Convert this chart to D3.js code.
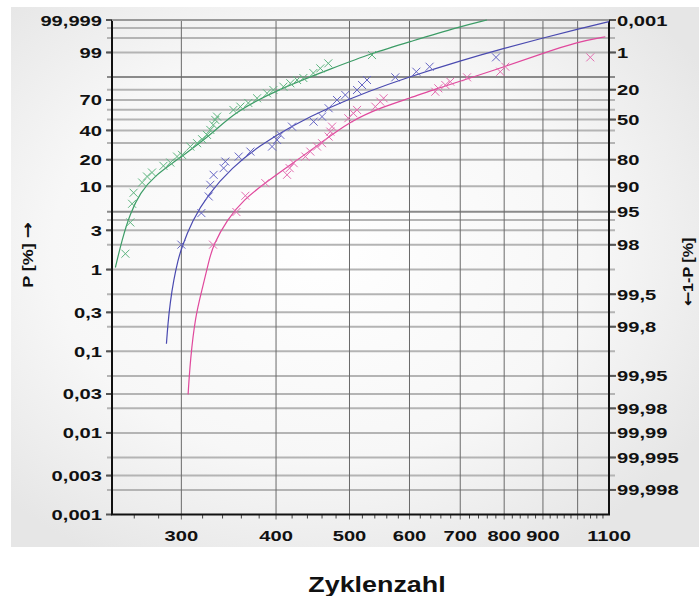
<!DOCTYPE html>
<html>
<head>
<meta charset="utf-8">
<script src="https://cdn.jsdelivr.net/npm/d3@7"></script>
<style>
  body { margin: 0; background: #fff; }
  text { font-family: "Liberation Sans", Arial, sans-serif; font-weight: bold; fill: #111; }
</style>
</head>
<body>
<div id="wrapper"></div>
<script>
// Werte (Zyklenzahl, P in %)
const greenPoints = [[253.1,1.56],[256.9,3.73],[258.3,6.23],[259.5,8.41],[266.3,11.07],[270.3,12.97],[274.4,14.4],[284.1,17.11],[290.1,18.62],[296.1,21.64],[300.6,22.58],[308.3,27.63],[314.7,29.95],[319.5,32.84],[324.3,36.23],[327.6,40.39],[330.6,44.89],[332.6,49.64],[334.4,52.9],[351.4,59.72],[358.9,63.13],[367.7,66.95],[377.6,71.75],[389.2,76.66],[396.8,79.75],[409,82.66],[417.8,85.47],[426.4,87.96],[434.6,89.35],[448,92.41],[457.6,94.72],[468.8,96.62],[535.4,98.62]];
const bluePoints = [[300,2.01],[318.8,4.83],[326,7.61],[327.6,10.41],[330.9,13.56],[341.1,16.14],[342.9,19.09],[357.1,21.64],[370,24.48],[395.2,27.63],[401.2,32.33],[405.3,36.23],[419.9,43.32],[448.4,47.99],[460,52.9],[469.3,61.48],[481.4,70],[493.7,75.02],[511.6,79.75],[519.4,84.1],[527.3,87.96],[574.7,89.81],[612.6,93.11],[637.8,95.4],[780.4,98.19]];
const magentaPoints = [[330.3,2.01],[354.6,4.97],[364.4,7.75],[387.2,10.89],[413.6,13.56],[416.9,16.14],[422,18.33],[437.3,21.64],[443.9,24.48],[453,27.63],[460,29.95],[469.3,34.86],[471.7,38.96],[474.2,43.32],[498.2,51.31],[505.9,56.33],[511.6,59.72],[540.8,63.13],[549.1,68.31],[554.6,71.75],[648.9,78.17],[654.9,81.27],[669,84.1],[679.2,86.71],[714.6,89.81],[790.6,93.11],[802.7,95.4],[1039.2,98.19]];

const greenFit = [[245.5,1.06],[250.5,2.31],[256.9,4.87],[264.9,8.4],[275.5,12.9],[300,21.5],[330.6,37.9],[351.4,56.6],[400.5,79.8],[476,94.9],[535,98.9],[600,99.8],[698,99.9925],[759,99.999]];
const blueFit = [[286.7,0.124],[288,0.217],[290,0.396],[293,0.737],[297,1.307],[300,1.812],[310,3.897],[325,7.96],[350,16.46],[380,28.19],[420,44.29],[470,62.32],[530,78.6],[600,90.21],[700,97.39],[800,99.44],[900,99.902],[1000,99.986],[1100,99.9983]];
const magentaFit = [[306.2,0.0297],[308.3,0.0795],[313,0.268],[319.5,0.569],[326,1.259],[330.6,2.01],[344.7,4.02],[362.2,6.95],[389.2,11.36],[417.8,17.55],[453,28.1],[501,48.68],[554.1,63.13],[600,71.75],[652.9,81.27],[698,86.71],[800.3,95.4],[900.1,98.9],[1001,99.8],[1087.7,99.923]];

const gridP = [99.99,99.9,99,90,80,70,60,50,40,30,20,10,5,4,3,2,1,0.5,0.3,0.2,0.1,0.05,0.03,0.02,0.01,0.005,0.003,0.002];
const darkGridP = [90,5];
const leftTicks = [99.999,99,70,40,20,10,3,1,0.3,0.1,0.03,0.01,0.003,0.001];
const leftLabels = ["99,999","99","70","40","20","10","3","1","0,3","0,1","0,03","0,01","0,003","0,001"];
const rightTicks = [99.999,99,80,50,20,10,5,2,0.5,0.2,0.05,0.02,0.01,0.005,0.002];
const rightLabels = ["0,001","1","20","50","80","90","95","98","99,5","99,8","99,95","99,98","99,99","99,995","99,998"];
const xTicks = [300,400,500,600,700,800,900,1100];
const xGridValues = [300,400,500,600,700,800,900,1000];
const xMinor = [260,280,320,340,360,380,420,440,460,480,520,540,560,580,620,640,660,680,720,740,760,780,820,840,860,880,920,940,960,980,1020,1040,1060,1080];

const dimension = {
    width: 699,
    height: 596,
    margin: { top: 20, left: 112, bottom: 81.5, right: 90 }
};
dimension.boundedWidth = dimension.width - dimension.margin.left - dimension.margin.right;
dimension.boundedHeight = dimension.height - dimension.margin.top - dimension.margin.bottom;

const svg = d3.select("#wrapper").append("svg")
    .attr("width", dimension.width)
    .attr("height", dimension.height);

const defs = svg.append("defs");
const grad = defs.append("radialGradient").attr("id", "bg")
    .attr("cx", "45%").attr("cy", "45%").attr("r", "65%");
grad.append("stop").attr("offset", "0%").attr("stop-color", "#ffffff");
grad.append("stop").attr("offset", "60%").attr("stop-color", "#f7f7f7");
grad.append("stop").attr("offset", "100%").attr("stop-color", "#e6e6e6");

svg.append("rect").attr("x", 11).attr("y", 7).attr("width", 688).attr("height", 540)
    .attr("fill", "url(#bg)");

const bounded = svg.append("g")
    .attr("transform", `translate(${dimension.margin.left},${dimension.margin.top})`);

// Weibull-Skala: ln(-ln(1-P))
const weib = p => Math.log(-Math.log(1 - p / 100));
const yLin = d3.scaleLinear()
    .domain([weib(0.001), weib(99.999)])
    .range([dimension.boundedHeight, 0]);
const yScale = p => yLin(weib(p));

const xScale = d3.scaleLog()
    .domain([243, 1100])
    .range([0, dimension.boundedWidth]);

// Gitter
bounded.append("g").selectAll("line").data(gridP).join("line")
    .attr("x1", -5).attr("x2", dimension.boundedWidth + 6)
    .attr("y1", d => yScale(d)).attr("y2", d => yScale(d))
    .attr("stroke", d => darkGridP.includes(d) ? "#8a8a8a" : "#b4b4b4")
    .attr("stroke-width", 2);

bounded.append("g").selectAll("line").data(xGridValues).join("line")
    .attr("x1", d => xScale(d)).attr("x2", d => xScale(d))
    .attr("y1", 0).attr("y2", dimension.boundedHeight + 5)
    .attr("stroke", "#6a6a6a")
    .attr("stroke-width", 1);

bounded.append("g").selectAll("line").data(xMinor).join("line")
    .attr("x1", d => xScale(d)).attr("x2", d => xScale(d))
    .attr("y1", dimension.boundedHeight).attr("y2", dimension.boundedHeight + 4)
    .attr("stroke", "#444")
    .attr("stroke-width", 1);

// Achsenticks links/rechts
bounded.append("g").selectAll("line").data(leftTicks).join("line")
    .attr("x1", -6).attr("x2", 0)
    .attr("y1", d => yScale(d)).attr("y2", d => yScale(d))
    .attr("stroke", "#555").attr("stroke-width", 2);
bounded.append("g").selectAll("line").data(rightTicks).join("line")
    .attr("x1", dimension.boundedWidth).attr("x2", dimension.boundedWidth + 7)
    .attr("y1", d => yScale(d)).attr("y2", d => yScale(d))
    .attr("stroke", "#555").attr("stroke-width", 2);

// Rahmen
bounded.append("path")
    .attr("d", `M0,0V${dimension.boundedHeight}H${dimension.boundedWidth}V0`)
    .attr("fill", "none").attr("stroke", "#111").attr("stroke-width", 2);
bounded.append("line")
    .attr("x1", 0).attr("x2", dimension.boundedWidth)
    .attr("y1", 0).attr("y2", 0)
    .attr("stroke", "#999").attr("stroke-width", 2);

// Kurven und Messpunkte
const series = [
    { fit: greenFit, pts: greenPoints, line: "#3c9c66", mark: "#5cb47e" },
    { fit: blueFit, pts: bluePoints, line: "#4a4ab0", mark: "#6666c4" },
    { fit: magentaFit, pts: magentaPoints, line: "#e0489c", mark: "#e46cb0" }
];

const lineGenerator = d3.line()
    .x(d => xScale(d[0]))
    .y(d => yScale(d[1]))
    .curve(d3.curveBasis);

series.forEach(s => {
    bounded.append("path")
        .attr("d", lineGenerator(s.fit))
        .attr("fill", "none")
        .attr("stroke", s.line)
        .attr("stroke-width", 1.2);
    bounded.append("g").selectAll("path").data(s.pts).join("path")
        .attr("transform", d => `translate(${xScale(d[0])},${yScale(d[1])})`)
        .attr("d", "M-4,-4L4,4M-4,4L4,-4")
        .attr("stroke", s.mark)
        .attr("stroke-width", 1)
        .attr("fill", "none");
});

// Beschriftungen
const stretch = 1.3;
bounded.append("g").selectAll("text").data(leftTicks).join("text")
    .attr("transform", d => `translate(-10,${yScale(d) + 5.5}) scale(${stretch},1)`)
    .attr("text-anchor", "end")
    .attr("font-size", 15.5)
    .text((d, i) => leftLabels[i]);

bounded.append("g").selectAll("text").data(rightTicks).join("text")
    .attr("transform", d => `translate(${dimension.boundedWidth + 8},${yScale(d) + 5.5}) scale(${stretch},1)`)
    .attr("text-anchor", "start")
    .attr("font-size", 15.5)
    .text((d, i) => rightLabels[i]);

bounded.append("g").selectAll("text").data(xTicks).join("text")
    .attr("transform", d => `translate(${xScale(d)},${dimension.boundedHeight + 26}) scale(${stretch},1)`)
    .attr("text-anchor", "middle")
    .attr("font-size", 15.5)
    .text(d => d);

const yTitle = svg.append("text")
    .attr("transform", "translate(33,255) rotate(-90) scale(1.2,1)")
    .attr("text-anchor", "middle")
    .attr("font-size", 15);
yTitle.append("tspan").text("P [%] ");
yTitle.append("tspan").attr("font-family", "DejaVu Sans").attr("font-size", 16).text("→");

const y2Title = svg.append("text")
    .attr("transform", "translate(693,272) rotate(-90) scale(1.15,1)")
    .attr("text-anchor", "middle")
    .attr("font-size", 14);
y2Title.append("tspan").attr("font-family", "DejaVu Sans").attr("font-size", 15).text("←");
y2Title.append("tspan").text("1-P [%]");

svg.append("text")
    .attr("transform", "translate(377,592) scale(1.25,1)")
    .attr("text-anchor", "middle")
    .attr("font-size", 21.5)
    .text("Zyklenzahl");
</script>
</body>
</html>
